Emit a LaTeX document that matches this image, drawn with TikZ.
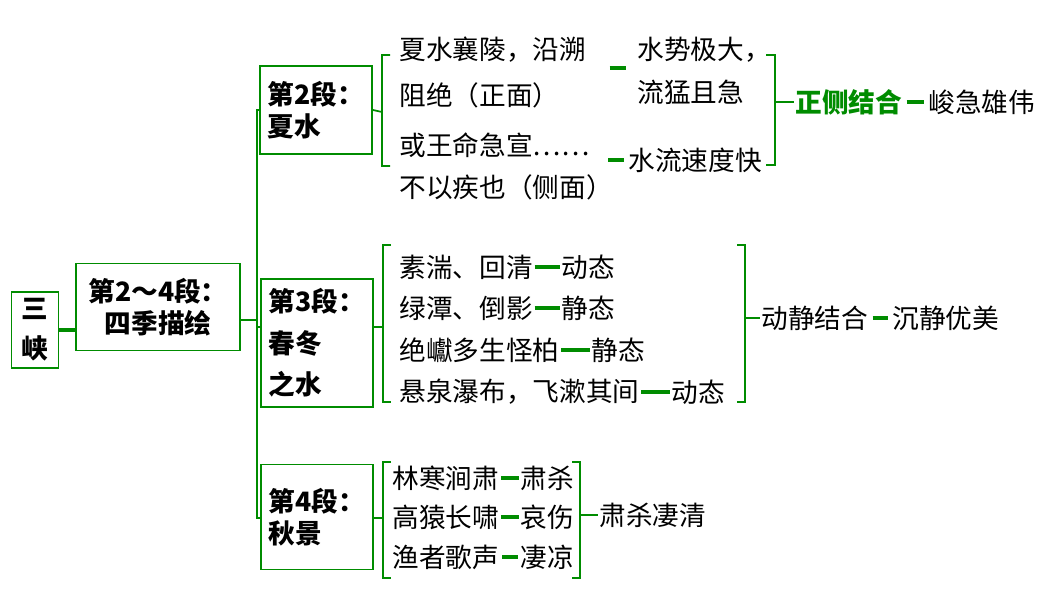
\documentclass[tikz,border=0pt]{standalone}
\usepackage{fontspec}
\setmainfont{Noto Sans CJK SC}
\colorlet{grx}{green!55!black}
\tikzset{
    box/.style={draw=grx,line width=1.2pt,align=left,inner xsep=6pt,inner ysep=0pt,font=\fontsize{20}{24}\selectfont\bfseries},
    txt/.style={anchor=west,inner sep=1pt},
    brk/.style={grx,line width=1.3pt},
    dsh/.style={grx,line width=2.5pt,shorten <=2pt,shorten >=2pt}
}
\begin{document}
\begin{tikzpicture}[x=0.75pt,y=-0.75pt,font=\fontsize{20}{24}\selectfont]
\useasboundingbox[fill=white] (0,0) rectangle (1047,591);
% boxes
\node[box,inner xsep=0pt,minimum width=35pt,minimum height=57pt,align=center,font=\fontsize{20}{30}\selectfont\bfseries] (sx) at (35,330) {三\\峡};
\node[box,inner xsep=0pt,minimum width=123pt,minimum height=65pt,align=center] (sj) at (158,307) {第2～4段：\\四季描绘};
\node[box,minimum width=73.5pt,minimum height=66pt] (b2) at (316,110) {第2段：\\夏水};
\node[box,minimum width=73.5pt,minimum height=96pt,font=\fontsize{20}{31}\selectfont\bfseries] (b3) at (317,343) {第3段：\\春冬\\之水};
\node[box,minimum width=73.5pt,minimum height=79pt] (b4) at (317,517) {第4段：\\秋景};
\coordinate (tr) at (257,320);
\draw[brk,line width=2.5pt] (sx) -- (sx-|sj.west);
\draw[brk] (sj.east|-tr) -- (tr);
\draw[brk] (257,112) |- (b2.west) (257,112) -- (257,518) -- (b4.west|-257,518) (tr) |- (b3.west|-257,327);
% summer
\node[txt] (a1) at (398,50) {夏水襄陵，沿溯};
\node[txt] (a2) at (398,95) {阻绝（正面）};
\node[txt] (a3) at (398,145) {或王命急宣……};
\node[txt] (a4) at (398,187) {不以疾也（侧面）};
\node[txt] (a5) at (636,50) {水势极大，};
\node[txt] (a6) at (636,92) {流猛且急};
\node[txt] (a7) at (627,160) {水流速度快};
\node[txt,text=grx,font=\fontsize{20}{24}\selectfont\bfseries] (a8) at (794,102) {正侧结合};
\node[txt] (a9) at (927,102) {峻急雄伟};
\draw[brk] (b2.east) -- (382,112) (390,55) -| (382,166) -- (390,166);
\draw[dsh] (607,68) -- (629,68);
\coordinate (d1) at (608,160);
\draw[dsh,shorten <=0pt] (d1) -- (a7.west);
\draw[brk] (766,55) -| (775,165) -- (766,165) (775,102) -- (a8.west);
\draw[dsh] (a8) -- (a9);
% spring and winter
\node[txt] (c1) at (398,267) {素湍、回清};
\node[txt] (c2) at (560,267) {动态};
\node[txt] (c3) at (398,308) {绿潭、倒影};
\node[txt] (c4) at (560,308) {静态};
\node[txt] (c5) at (398,350) {绝巘多生怪柏};
\node[txt] (c6) at (590,350) {静态};
\node[txt] (c7) at (398,392) {悬泉瀑布，飞漱其间};
\node[txt] (c8) at (670,392) {动态};
\node[txt] (c9) at (760,318) {动静结合};
\node[txt] (c10) at (891,318) {沉静优美};
\draw[brk] (b3.east|-383,327) -- (383,327) (391,245) -| (383,402) -- (391,402);
\draw[dsh] (c1) -- (c2) (c3) -- (c4) (c5) -- (c6) (c7) -- (c8) (c9) -- (c10);
\draw[brk] (737,245) -| (745,402) -- (737,402) (745,318) -- (c9.west);
% autumn
\node[txt] (e1) at (391,478) {林寒涧肃};
\node[txt] (e2) at (519,478) {肃杀};
\node[txt] (e3) at (391,517) {高猿长啸};
\node[txt] (e4) at (519,517) {哀伤};
\node[txt] (e5) at (391,557) {渔者歌声};
\node[txt] (e6) at (519,557) {凄凉};
\node[txt] (e7) at (598,515) {肃杀凄清};
\draw[brk] (b4.east|-383,518) -- (383,518) (391,462) -| (383,578) -- (391,578);
\draw[dsh,shorten <=1pt,shorten >=1pt] (e1) -- (e2) (e3) -- (e4) (e5) -- (e6);
\draw[brk] (572,462) -| (580,578) -- (572,578) (580,515) -- (e7.west);
\end{tikzpicture}
\end{document}
